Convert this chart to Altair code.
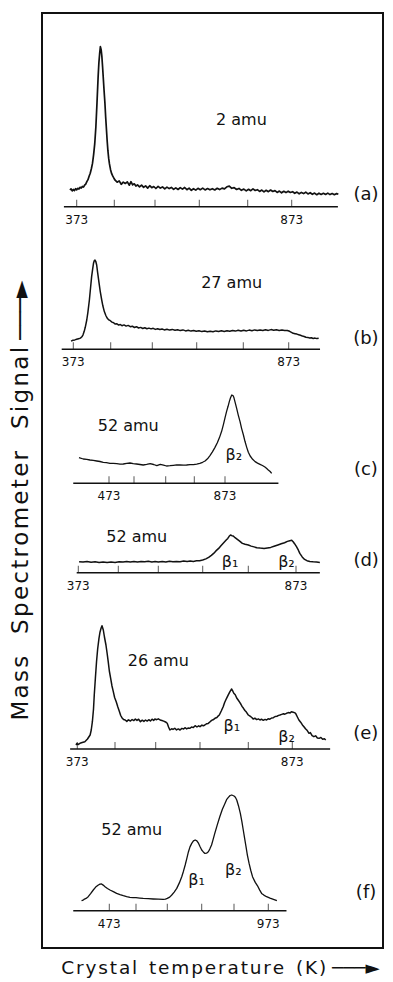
import altair as alt
import pandas as pd

FONT = "DejaVu Sans"
INK = "#111111"
W, H = 341, 935          # plot area (inside the frame)
LEFT, TOP = 42, 13       # page position of the frame

# ---------------- data (temperature K, signal arb. units) -------------
a_t = [355,358,361,364,367,370,373,376,379,382,385,388,391,394,397,400,403,406,409,412,415,418,421,424,427,430,432,434,436,438,440,442,444,446,448,450,452,454,456,458,460,463,466,469,472,
       475,480,485,490,495,500,505,510,514,518,522,526,530,535,540,545,550,555,560,565,570,575,580,585,590,595,600,605,610,615,620,625,630,635,640,645,650,655,660,665,670,675,680,685,690,695,700,705,710,715,720,725,730,735,740,745,750,755,760,765,770,775,780,785,790,795,800,805,810,815,820,825,830,835,840,845,850,855,860,865,870,875,880,885,890,895,900,905,910,915,920,925,930,935,940,945,950,955,960,965,970,975,979]
a_s = [16.7,17.9,15.8,17.2,16.1,18.0,16.9,18.4,17.6,19.4,18.6,20.2,19.6,21.5,22.6,25.0,27.0,30.5,33.5,38.0,43.3,52.0,63.0,80.0,104.0,130.0,144.0,153.0,160.0,157.0,150.0,139.0,127.0,115.0,104.0,90.0,78.0,66.0,56.0,48.5,43.0,37.0,33.0,30.5,28.5,
       26.5,24.5,25.8,22.4,24.6,23.2,24.8,21.5,25.0,21.8,22.9,20.6,21.9,19.8,21.6,19.4,20.8,18.6,21.0,19.0,20.2,18.2,20.4,18.6,19.8,17.8,19.6,18.1,19.3,17.4,18.8,17.2,19.1,17.6,19.2,17.0,18.6,16.4,18.0,16.6,18.4,17.0,18.6,16.8,18.2,16.9,18.0,16.7,18.4,17.1,18.6,17.8,19.9,20.6,18.4,19.1,17.2,18.3,16.4,17.6,15.8,17.4,16.0,17.8,16.2,17.0,15.3,16.6,14.8,16.4,15.0,16.7,15.2,16.1,14.3,15.6,13.9,15.4,14.1,15.5,14.2,15.0,13.4,14.6,12.9,14.3,13.1,14.5,12.8,14.0,12.4,13.6,12.0,13.5,12.3,13.4,12.2,13.6,12.1,13.2,12.0,13.1,12.4]

b_t = [367,372,377,382,387,392,396,399,402,405,409,412,416,419,422,425,427,429,431,433,435.5,438,442,445,449,452,456,460,464,468,472,476,480,484,488,492,496,500,505,510,515,520,525,530,535,540,545,550,555,560,565,570,575,580,585,590,595,600,606,612,618,624,630,636,642,648,654,660,666,672,678,684,690,696,702,708,714,720,726,732,738,744,750,756,762,768,774,780,786,792,798,804,810,816,822,828,834,840,846,852,858,864,870,875,879,883,887,891,895,899,903,907,911,915,919,923,927,931,935,939]
b_s = [8.2,9.0,9.4,10.0,10.6,11.2,12.5,14.5,17.7,22.0,29.3,37.0,49.3,61.0,72.7,81.0,86.0,88.5,89.3,88.0,84.3,77.0,66.0,58.0,49.3,43.5,37.7,33.8,31.0,29.4,28.6,27.2,26.6,25.2,25.6,24.2,24.8,23.6,24.4,23.2,23.9,22.6,23.1,21.8,22.6,21.3,21.9,20.8,21.6,20.6,21.2,20.4,21.0,19.9,20.6,19.8,20.3,19.4,20.1,19.2,19.9,19.0,19.6,18.7,19.4,18.4,19.0,18.2,18.8,18.0,18.6,17.7,18.3,17.5,18.1,17.6,18.4,17.8,18.6,17.9,18.6,18.0,18.8,18.2,19.0,18.3,19.1,18.4,19.2,18.6,19.4,18.7,19.4,18.8,19.6,18.9,19.7,19.0,19.6,18.9,19.4,18.7,18.8,18.0,17.0,16.0,15.6,15.2,14.6,14.0,13.2,12.8,12.0,11.9,11.3,11.5,10.8,11.2,10.7,11.0]

c_t = [353,370,384,397,410,424,437,450,463,477,490,504,517,530,544,557,570,581,592,602,613,624,635,645,656,666,676,688,700,711,723,735,746,758,770,781,791,800,808,816,824,832,840,848,855,862,868,873,878,883,887,891,895,899,902,906,911,916,922,927,933,938,944,949,955,963,971,979,987,995,1003,1008,1014,1020,1025]
c_s = [25.7,24.3,24.0,23.3,22.9,22.3,21.8,21.0,20.6,20.0,19.9,19.7,19.2,19.3,20.0,20.3,19.6,19.3,18.8,18.3,18.9,19.7,18.8,17.7,19.0,18.2,17.3,17.6,18.0,18.4,18.3,18.1,18.3,18.6,18.7,19.2,20.0,21.0,22.3,24.5,27.7,31.5,35.7,40.5,45.7,52.0,59.0,65.5,71.7,77.0,81.7,85.5,88.3,87.8,85.7,81.0,75.0,68.5,61.7,55.0,48.3,42.0,35.7,31.0,27.3,24.0,21.7,20.2,19.0,17.8,16.3,15.0,13.3,11.8,10.0]

d_t = [375,385,395,405,415,425,435,445,455,465,475,485,494,503,512,521,530,539,548,557,565,573,582,590,598,606,614,622,630,638,645,652,659,666,673,680,686,692,697,702,708,713,719,724,728,731,734,737,740,744,749,754,760,766,773,779,785,791,798,806,813,820,827,835,842,849,855,860,864,867,870,874,878,881,886,891,896,902,909,916,923]
d_s = [11.0,10.6,11.2,10.4,10.9,10.2,10.8,10.1,10.6,10.3,11.0,10.6,11.2,10.7,11.3,10.8,11.3,10.9,11.4,10.8,11.1,10.7,11.3,10.8,11.4,10.9,11.2,11.0,11.6,11.1,11.6,11.3,11.9,12.0,12.7,13.8,15.3,17.3,19.3,21.8,24.3,27.0,30.0,32.4,34.3,36.4,37.7,37.0,36.7,35.0,33.3,31.6,29.3,28.4,27.7,26.6,25.8,25.0,24.6,24.3,24.8,25.3,26.4,27.7,28.9,30.0,31.3,32.0,32.4,31.0,29.0,26.0,22.5,19.3,15.8,13.3,12.0,11.3,10.9,10.7,10.3]

e_t = [369.5,372,375,380,386,393,400,407,410,413,416,418,421,424,427,430.5,433,436,438.5,442,445,449,452,455,458,461.5,465,468.5,472,476,480,484,487,490,494,498,502,506,511,515,519,523,527,531,535.5,540,544,548,552,556,560,564,568,571,575,579,583,587,591,594,597,599,602,605,609,612,616,620,624,628,632,636,639,643,646,650,654,658,662,666,670,673,677,680,683,687,690,694,697,700,704,708,711,713,717,721,724,728,731,735,738.5,741,743,746,749,752,755,758,760,763,766,769,773,777,781,784,788,792,796,799.5,803,807,811,814.5,818,822,826,830,834,838,842,845,849,853,856,860,864,868,871,875,878,880.5,884,888,892,896,899.5,903,907,911,914,918,922,926,930,934,938,942,946,949]
e_s = [4.0,5.5,4.5,5.7,6.5,7.3,10.0,14.0,19.0,27.3,40.0,54.0,71.0,87.3,100.0,110.7,116.5,120.7,123.3,119.0,112.0,104.0,96.0,87.3,78.0,70.7,63.0,57.3,51.5,47.3,42.0,37.3,33.5,31.3,29.4,29.0,27.6,29.2,28.0,29.5,28.4,30.0,28.6,29.8,27.3,28.8,27.6,29.0,27.9,29.3,28.0,29.8,28.6,30.0,29.3,30.2,29.0,28.5,27.9,27.3,26.5,25.7,22.0,19.0,20.2,19.6,20.7,19.1,20.1,19.0,20.6,20.0,21.3,20.1,21.0,20.7,22.0,21.4,23.3,22.0,23.2,22.3,23.9,23.2,24.0,25.3,25.6,27.3,28.6,29.2,30.7,31.5,33.2,34.0,38.0,42.3,46.5,50.7,53.6,57.3,60.0,57.8,55.7,54.2,51.0,49.0,46.8,44.5,42.6,40.7,38.5,36.9,34.0,32.8,31.5,30.0,30.8,29.4,30.1,29.0,29.8,28.7,29.6,29.0,30.2,29.8,31.0,31.3,32.5,32.8,33.6,34.0,34.6,35.2,34.8,35.7,36.4,36.1,37.3,36.8,36.4,35.7,32.5,29.0,26.8,24.1,22.3,20.2,18.4,15.7,16.4,13.3,12.3,13.2,11.0,10.7,11.6,9.8,10.3,9.0]

f_t = [369,373,378,386,394,403,413,422,432,438,444,450,457,466,475.5,488,500.5,513,525.5,538,550.5,562,573,585,596,612,628,644,660,667,673,680,686,693,700.5,708,715,720,725,730,734.5,739,744,749,754,759,764,768,773,778,783,788,793.5,798,803.5,808,813.5,821,829,837,845,850,855.5,861,866,873,877,881,886,891.5,896,900,904,908,912,917,922,927,935,943,948,953.5,960,968,978,988,998]
f_s = [10.0,10.3,11.3,12.3,14.0,17.0,20.7,23.6,25.7,26.5,26.7,25.6,24.0,22.2,20.7,19.0,17.3,16.1,15.0,14.1,13.3,13.1,13.0,12.6,12.3,12.0,11.7,11.5,11.3,11.6,12.3,13.6,15.7,18.6,22.3,27.8,34.0,39.5,45.7,52.5,59.0,63.8,67.3,69.8,70.7,69.9,67.3,64.2,60.7,58.8,57.3,57.5,59.0,61.6,65.7,70.8,77.3,85.6,94.0,101.5,107.3,111.0,113.3,115.2,115.7,114.7,113.4,110.7,105.0,97.3,89.0,80.7,72.4,64.0,55.6,47.3,40.2,34.0,28.3,24.0,20.6,17.3,15.6,14.0,12.6,11.3,10.0]

# tick temperatures
ticks_373_873 = [373, 473, 573, 673, 773, 873]
ticks_473_873 = [473, 573, 673, 773, 873]
ticks_473_973 = [473, 573, 673, 773, 873, 973]

# annotations: (text, temperature, signal)
a_notes = [("2 amu", 760, 87)]
b_notes = [("27 amu", 748, 66)]
c_notes = [("52 amu", 550, 57), ("\u03b2\u2082", 902, 28)]
d_notes = [("52 amu", 519, 36), ("\u03b2\u2081", 733, 11), ("\u03b2\u2082", 853, 11)]
e_notes = [("26 amu", 579, 88), ("\u03b2\u2081", 739, 23), ("\u03b2\u2082", 860, 12)]
f_notes = [("52 amu", 557, 81), ("\u03b2\u2081", 758, 31), ("\u03b2\u2082", 871, 41)]

x_words = ["Crystal", "temperature", "(K)"]
y_words = ["Mass", "Spectrometer", "Signal"]


def spaced(words, gap):
    # letter-spaced title text (hair spaces between letters, wider gaps between words)
    return gap.join("\u200a".join(w) for w in words)


X_TITLE = spaced(x_words, "\u00a0 ") + " \u2500\u2500\u2500\u25ba"
Y_TITLE = spaced(y_words, "\u00a0\u00a0 ") + " \u2500\u2500\u2500\u25ba"

# ---------------- layout of each panel (page pixels of the tick marks / axis line) ----------
panels = [
    dict(t=a_t, s=a_s, ticks=ticks_373_873, tick_px=[76.7, 114.3, 155, 199.3, 247.7, 291.7], axis_py=206.7,
         span=(339, 978), labels=[373, 873], notes=a_notes, letter=("(a)", 1042, 12), lw=1.7),
    dict(t=b_t, s=b_s, ticks=ticks_373_873, tick_px=[73.3, 110.7, 152.3, 196.7, 243.3, 288.7], axis_py=349.3,
         span=(342, 942), labels=[373, 873], notes=b_notes, letter=("(b)", 1043, 10), lw=1.5),
    dict(t=c_t, s=c_s, ticks=ticks_473_873, tick_px=[109, 134, 165.7, 194.3, 225], axis_py=483.3,
         span=(330, 1047), labels=[473, 873], notes=c_notes, letter=("(c)", 1332, 13), lw=1.3),
    dict(t=d_t, s=d_s, ticks=ticks_373_873, tick_px=[78.3, 118.3, 158.3, 202.7, 248.3, 296], axis_py=572.7,
         span=(369, 923), labels=[373, 873], notes=d_notes, letter=("(d)", 1020, 12), lw=1.5),
    dict(t=e_t, s=e_s, ticks=ticks_373_873, tick_px=[77.3, 115, 155.7, 200, 248.3, 292.3], axis_py=749,
         span=(354, 959), labels=[373, 873], notes=e_notes, letter=("(e)", 1040, 15), lw=1.5),
    dict(t=f_t, s=f_s, ticks=ticks_473_973, tick_px=[109.3, 136, 167.3, 201.7, 234, 268.3], axis_py=910.7,
         span=(338, 1026), labels=[473, 973], notes=f_notes, letter=("(f)", 1258, 18), lw=1.3),
]


def make_panel(p):
    xs = alt.Scale(domain=p["ticks"], range=[v - LEFT for v in p["tick_px"]], zero=False, nice=False)
    hi = p["axis_py"] - TOP
    ys = alt.Scale(domain=[hi - H, hi], zero=False, nice=False)

    X = alt.X("t:Q", scale=xs, axis=None)
    Y = alt.Y("s:Q", scale=ys, axis=None)

    trace = alt.Chart(pd.DataFrame({"t": p["t"], "s": p["s"]})).mark_line(
        color=INK, strokeWidth=p["lw"], strokeJoin="round").encode(x=X, y=Y)

    base = alt.Chart(pd.DataFrame({"t": [p["span"][0]], "t2": [p["span"][1]], "s": [0]})).mark_rule(
        color=INK, strokeWidth=1.5).encode(x=X, x2="t2:Q", y=Y)

    tks = alt.Chart(pd.DataFrame({"t": p["ticks"], "s": [0] * len(p["ticks"])})).mark_tick(
        orient="vertical", size=7, thickness=1, yOffset=-3.5, color=INK).encode(x=X, y=Y)

    tlab = alt.Chart(pd.DataFrame({"t": p["labels"], "s": [0] * len(p["labels"]),
                                   "lab": [str(v) for v in p["labels"]]})).mark_text(
        font=FONT, fontSize=12, dy=13, color=INK).encode(x=X, y=Y, text="lab:N")

    notes = alt.Chart(pd.DataFrame(p["notes"], columns=["lab", "t", "s"])).mark_text(
        font=FONT, fontSize=16, color=INK).encode(x=X, y=Y, text="lab:N")

    letter = alt.Chart(pd.DataFrame([p["letter"]], columns=["lab", "t", "s"])).mark_text(
        font=FONT, fontSize=18, color=INK).encode(x=X, y=Y, text="lab:N")

    return alt.layer(trace, base, tks, tlab, notes, letter)


# a plain unit layer that carries only the two axis titles
titles = alt.Chart(pd.DataFrame({"t": [0.5], "s": [0.5]})).mark_point(opacity=0, size=1).encode(
    x=alt.X("t:Q", scale=alt.Scale(domain=[0, 1]),
            axis=alt.Axis(title=X_TITLE, labels=False, ticks=False, domain=False, grid=False,
                          titleFont=FONT, titleFontSize=18.5, titleFontWeight="normal",
                          titleColor=INK, titlePadding=10, titleX=178)),
    y=alt.Y("s:Q", scale=alt.Scale(domain=[0, 1]),
            axis=alt.Axis(title=Y_TITLE, labels=False, ticks=False, domain=False, grid=False,
                          titleFont=FONT, titleFontSize=23, titleFontWeight="normal",
                          titleColor=INK, titlePadding=10, titleY=487)),
)

chart = alt.layer(titles, *[make_panel(p) for p in panels]).resolve_scale(
    x="independent", y="independent"
).properties(
    width=W, height=H,
    padding={"left": 34, "top": 5, "right": 2, "bottom": 34},
    autosize=alt.AutoSizeParams(type="none"),
    background="white",
).configure_view(stroke=INK, strokeWidth=2)

chart.save("out.html", embed_options={"renderer": "svg", "actions": False})
